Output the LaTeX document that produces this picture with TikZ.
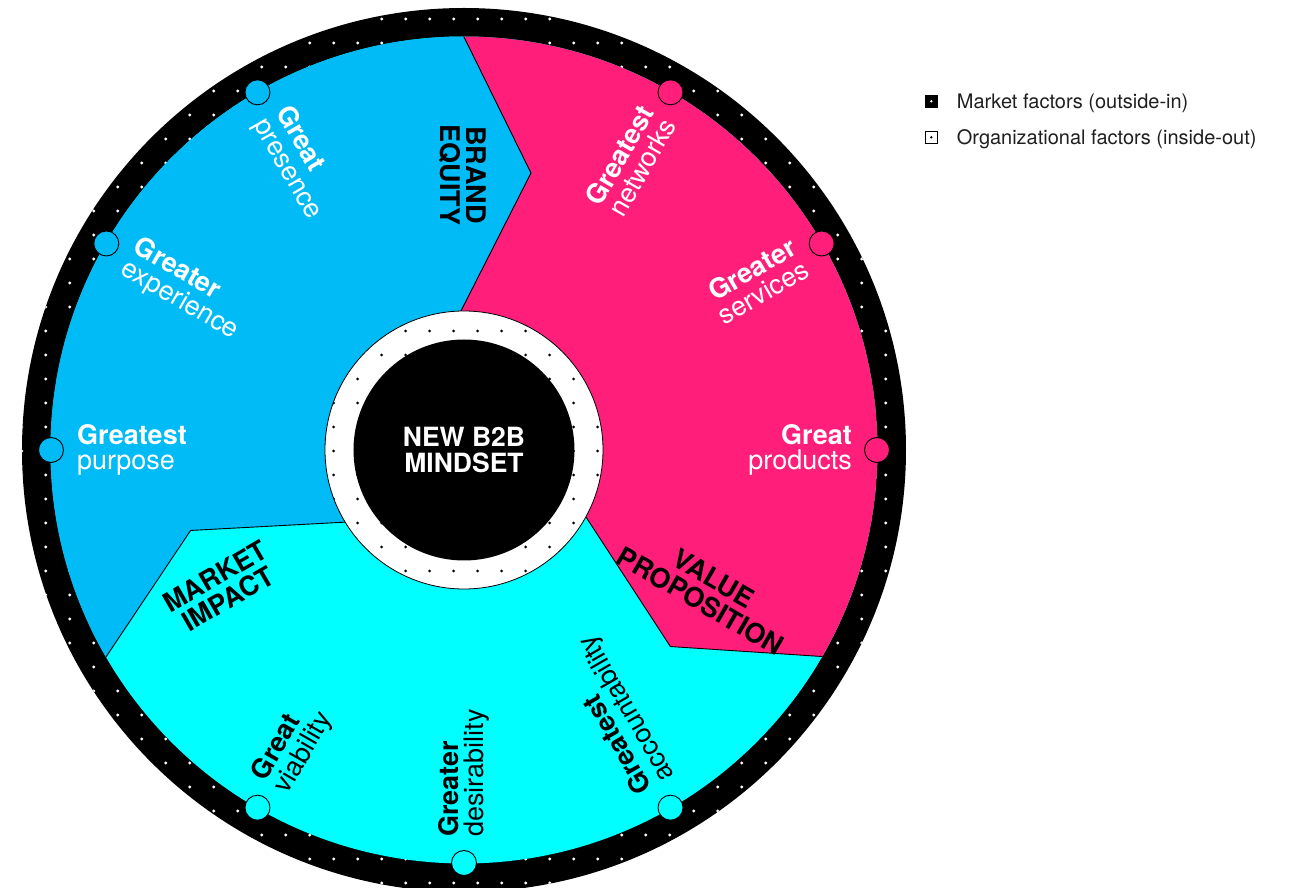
\documentclass[tikz,border=0pt]{standalone}
\usepackage{fontspec}
\setmainfont{TeX Gyre Heros}
\usetikzlibrary{calc}
\definecolor{wheelblue}{RGB}{0,187,245}
\definecolor{wheelpink}{RGB}{255,30,122}
\definecolor{wheelcyan}{RGB}{0,255,255}

\begin{document}
\begin{tikzpicture}[x=1pt,y=1pt,
  lab/.style={font=\fontsize{27}{25.5}\selectfont, inner sep=0pt},
  sectorlab/.style={font=\fontsize{27}{26}\selectfont\bfseries, inner sep=0pt, align=center, text=black},
  rimdot/.style={circle, minimum size=25pt, inner sep=0pt, draw=black, line width=0.9pt},
  border/.style={draw=black, line width=0.9pt, line join=miter},
  legendtext/.style={anchor=base west, inner sep=0pt, font=\fontsize{20}{20}\selectfont, text=black!88}
]
\useasboundingbox (-464,-438) rectangle (830,450);

% outer black rim with a white dot grid
\fill[black] (0,0) circle (442);
\begin{scope}
  \clip (0,0) circle (442);
  \foreach \i in {-18,...,18}{
    \foreach \j in {-18,...,18}{
      \fill[white] ({-10.3+24*\i},{-1+24*\j}) circle (1.6);
    }
  }
\end{scope}

% corner points of the three sector borders
\foreach \t/\n in {90/a,-30/b,210/c}{
  \coordinate (\n1) at (\t:413);
  \coordinate (\n2) at ({\t-13.6}:285);
  \coordinate (\n3) at (\t:145);
  \coordinate (\n0) at ($(\n1)!-0.3!(\n2)$);
  \coordinate (\n4) at ($(\n3)!-0.25!(\n2)$);
}

% coloured sectors
\begin{scope}
  \clip (0,0) circle (413.5);
  \fill[wheelcyan] (0,0) circle (414);
  \fill[wheelblue] (0,0) -- (a4) -- (a2) -- (a1) -- (a0) -- (100:700) -- (150:900)
    -- (200:700) -- (c0) -- (c1) -- (c2) -- (c4) -- cycle;
  \fill[wheelpink] (0,0) -- (b4) -- (b2) -- (b1) -- (b0) -- (-20:700) -- (30:900)
    -- (80:700) -- (a0) -- (a1) -- (a2) -- (a4) -- cycle;
  \foreach \n in {a,b,c} \draw[border] (\n0) -- (\n2) -- (\n4);
\end{scope}

% small circles on the rim
\foreach \t/\c [count=\k] in {180/wheelblue,150/wheelblue,120/wheelblue,
    60/wheelpink,30/wheelpink,0/wheelpink,
    -60/wheelcyan,-90/wheelcyan,-120/wheelcyan}
  \node[rimdot, fill=\c] (dot\k) at (\t:413) {};

% hub: white ring with a black dot grid, black core
\fill[white] (0,0) circle (139);
\begin{scope}
  \clip (0,0) circle (139);
  \foreach \i in {-6,...,6}{
    \foreach \j in {-6,...,6}{
      \fill[black] ({-10.3+24*\i},{-1+24*\j}) circle (1.5);
    }
  }
\end{scope}
\draw[black, line width=0.8pt] (0,0) circle (139);
\node[circle, fill=black, minimum size=221pt, inner sep=0pt, text=white,
  font=\fontsize{26.5}{25.5}\selectfont\bfseries, align=center] (hub) at (0,0) {NEW B2B\\MINDSET};

% labels of the blue sector
\node[lab, text=white, align=left, anchor=west, rotate=0] (purpose) at (180:387) {\textbf{Greatest}\\purpose};
\node[lab, text=white, align=left, anchor=west, rotate=-30] (experience) at (150:387) {\textbf{Greater}\\experience};
\node[lab, text=white, align=left, anchor=west, rotate=-60] (presence) at (120:387) {\textbf{Great}\\presence};

% labels of the pink sector
\node[lab, text=white, align=right, anchor=east, rotate=60] (networks) at (60:388) {\textbf{Greatest}\\networks};
\node[lab, text=white, align=right, anchor=east, rotate=30] (services) at (30:388) {\textbf{Greater}\\services};
\node[lab, text=white, align=right, anchor=east, rotate=0] (products) at (0:388) {\textbf{Great}\\products};

% labels of the cyan sector
\node[lab, text=black, align=left, anchor=west, rotate=120] (accountability) at (-60:387) {\textbf{Greatest}\\accountability};
\node[lab, text=black, align=left, anchor=west, rotate=90] (desirability) at (-90:387) {\textbf{Greater}\\desirability};
\node[lab, text=black, align=left, anchor=west, rotate=60] (viability) at (-120:387) {\textbf{Great}\\viability};

% sector titles
\node[sectorlab, rotate=-90] (brand) at (-1,275) {BRAND\\EQUITY};
\node[sectorlab, rotate=-30] (value) at (243,-140) {VALUE\\PROPOSITION};
\node[sectorlab, rotate=30] (market) at (-242.3,-137.5) {MARKET\\IMPACT};

% legend
\node[fill=black, minimum size=12.7pt, inner sep=0pt] (key1) at (467.3,348.7) {};
\fill[white] (key1.center) circle (1.3);
\node[draw=black, line width=0.8pt, fill=white, minimum size=12pt, inner sep=0pt] (key2) at (467.3,312.7) {};
\fill[black] (key2.center) circle (1.3);
\node[legendtext] (keytext1) at (492.7,341.7) {Market factors (outside-in)};
\node[legendtext] (keytext2) at (492.7,305.7) {Organizational factors (inside-out)};
\end{tikzpicture}
\end{document}
